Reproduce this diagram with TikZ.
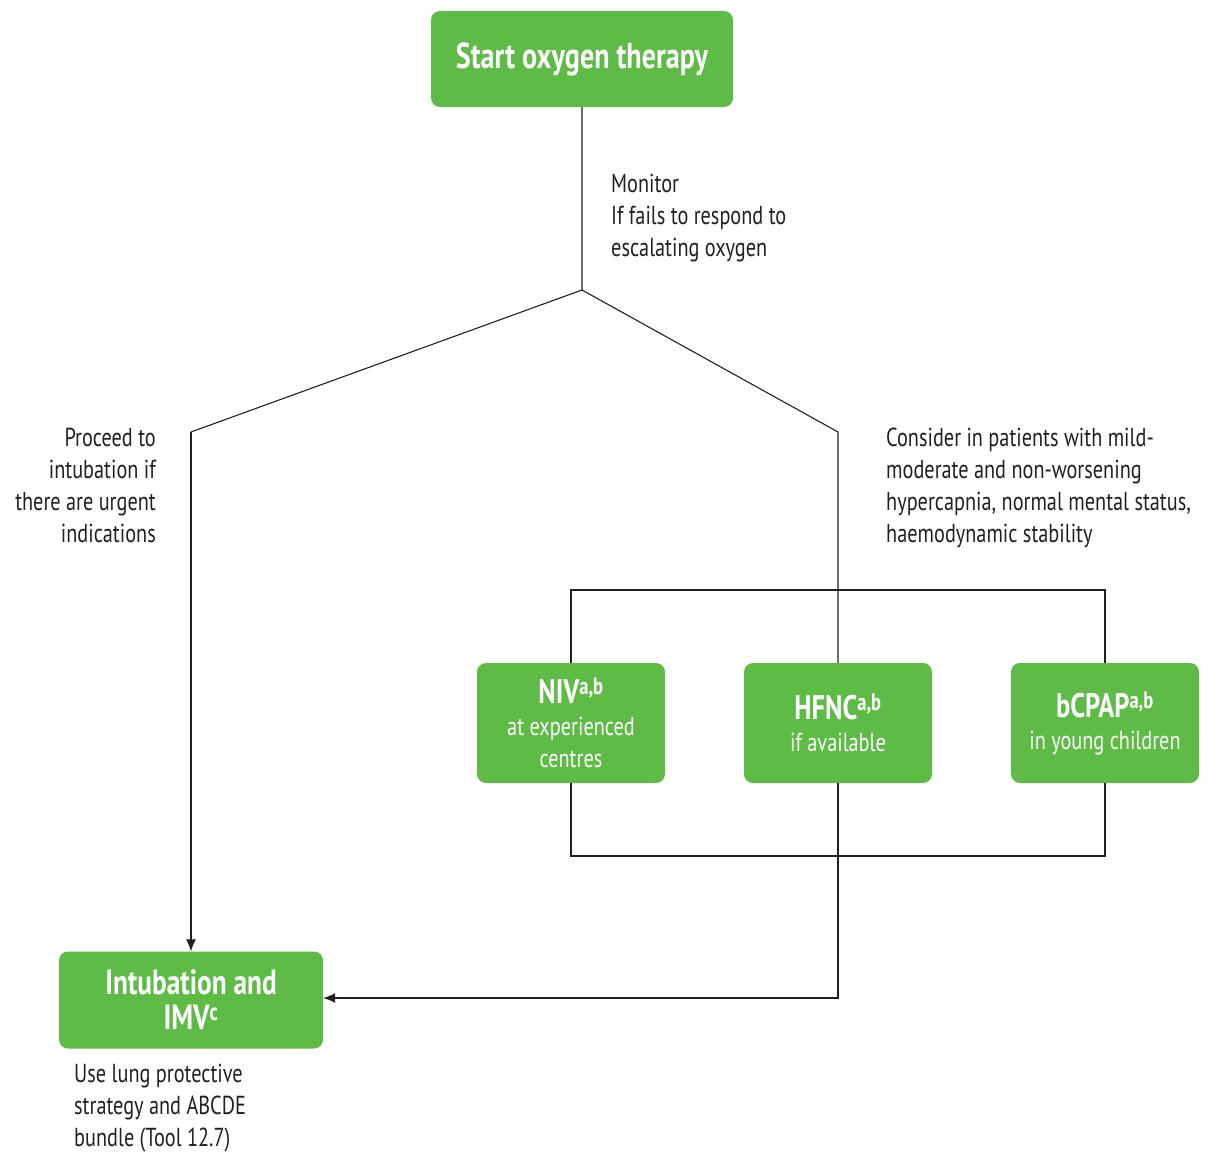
\documentclass[tikz,border=0pt]{standalone}
\usepackage{fontspec}
\setmainfont{PT Sans}[FakeStretch=0.78]
\usetikzlibrary{arrows.meta}
\definecolor{boxgreen}{HTML}{5DBB46}
\definecolor{ink}{HTML}{231F20}
\begin{document}
\begin{tikzpicture}[x=1pt,y=-1pt,
  box/.style={fill=boxgreen, rounded corners=9pt, text=white, align=center, inner sep=0pt},
  conn/.style={draw=ink, line width=1.1pt},
  arr/.style={conn, -{Latex[length=12pt,width=10pt]}},
  lbl/.style={text=ink, inner sep=0pt, font=\fontsize{26}{32}\selectfont},
  boxfont/.style={font=\fontsize{26}{32}\selectfont}]
\useasboundingbox (0,0) rectangle (1212,1155);

\node[box, minimum width=302pt, minimum height=96pt, font=\bfseries\fontsize{36}{38}\selectfont] (start) at (582,59) {Start oxygen therapy\vphantom{g}};

\node[box, boxfont, minimum width=188pt, minimum height=120pt] (niv) at (571,723)
  {{\bfseries\fontsize{34}{32}\selectfont NIV\textsuperscript{a,b}}\\at experienced\\centres};
\node[box, boxfont, minimum width=188pt, minimum height=120pt] (hfnc) at (838,723)
  {{\bfseries\fontsize{34}{32}\selectfont HFNC\textsuperscript{a,b}}\\if available};
\node[box, boxfont, minimum width=188pt, minimum height=120pt] (bcpap) at (1105,723)
  {{\bfseries\fontsize{34}{32}\selectfont bCPAP\textsuperscript{a,b}}\\in young children};

\node[box, minimum width=264pt, minimum height=97pt, font=\bfseries\fontsize{35}{35}\selectfont] (intub) at (191,1000)
  {Intubation and\\IMV\textsuperscript{c}};

\coordinate (j) at (582,290);
\coordinate (l) at (191,432);
\coordinate (r) at (838,432);
\coordinate (tl) at (571,590);
\coordinate (tr) at (1105,590);
\coordinate (bl) at (571,856);
\coordinate (br) at (1105,856);
\coordinate (hc) at (838,998);

\draw[conn] (start.south) -- (j) -- (l);
\draw[arr] (l) -- (intub.north);
\draw[conn] (j) -- (r) -- (hfnc.north);
\draw[conn] (niv.north) -- (tl) -- (tr) -- (bcpap.north);
\draw[conn] (niv.south) -- (bl) -- (br) -- (bcpap.south);
\draw[arr] (hfnc.south) -- (hc) -- (hc -| intub.east);

\node[lbl, anchor=north west, align=left] (mon) at (611,174) {Monitor\\If fails to respond to\\escalating oxygen};
\node[lbl, anchor=north east, align=right] (proc) at (156,428) {Proceed to\\intubation if\\there are urgent\\indications};
\node[lbl, anchor=north west, align=left] (cons) at (886,428) {Consider in patients with mild-\\moderate and non-worsening\\hypercapnia, normal mental status,\\haemodynamic stability};
\node[lbl, anchor=north west, align=left] (use) at (74,1064) {Use lung protective\\strategy and ABCDE\\bundle (Tool 12.7)};
\end{tikzpicture}
\end{document}
